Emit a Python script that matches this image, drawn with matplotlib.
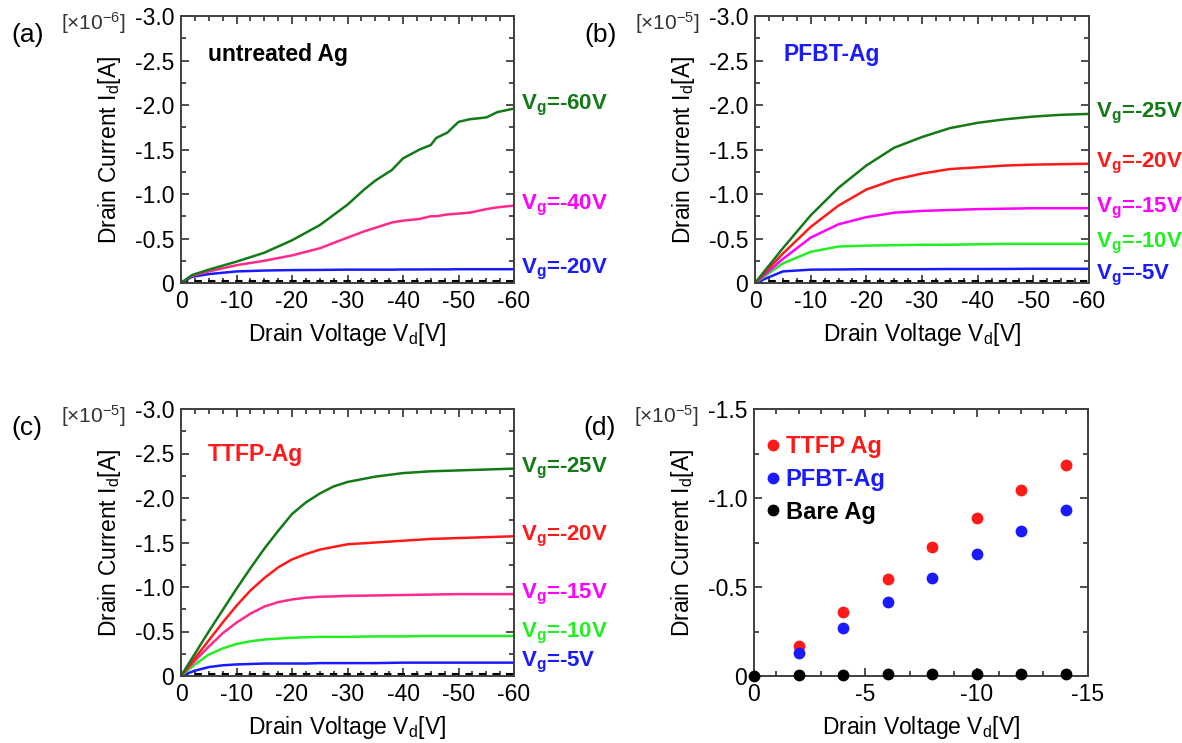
import numpy as np
import matplotlib
matplotlib.use("Agg")
import matplotlib.pyplot as plt
from matplotlib.ticker import MultipleLocator, FuncFormatter

plt.rcParams['font.family'] = ['Liberation Sans', 'DejaVu Sans']
plt.rcParams['mathtext.fontset'] = 'custom'
plt.rcParams['mathtext.rm'] = 'Liberation Sans'
plt.rcParams['mathtext.bf'] = 'Liberation Sans:bold'
plt.rcParams['mathtext.it'] = 'Liberation Sans:italic'

# ---------------- data ----------------
# (a) untreated Ag, current in units of 1e-6 A
vd_a = [0, -2, -5, -10, -15, -20, -25, -30, -33, -35, -38, -40, -43, -45, -46, -48, -50, -52, -55, -57, -60]
id_a_vg60 = [0, -0.09, -0.15, -0.24, -0.34, -0.48, -0.65, -0.88, -1.05, -1.15, -1.27, -1.40, -1.50,
             -1.55, -1.63, -1.69, -1.81, -1.84, -1.86, -1.92, -1.96]
id_a_vg40 = [0, -0.08, -0.13, -0.20, -0.25, -0.31, -0.39, -0.51, -0.58, -0.62, -0.68, -0.70, -0.72,
             -0.75, -0.75, -0.77, -0.78, -0.79, -0.83, -0.85, -0.87]
id_a_vg20 = [0, -0.07, -0.10, -0.13, -0.14, -0.145, -0.147, -0.15, -0.15, -0.15, -0.15, -0.152, -0.152,
             -0.153, -0.153, -0.153, -0.155, -0.155, -0.155, -0.155, -0.155]
id_a_vg0 = [-0.02] * len(vd_a)

# (b) PFBT-Ag, current in units of 1e-5 A
vd_b = [0, -5, -10, -15, -20, -25, -30, -35, -40, -45, -50, -55, -60]
id_b_vg25 = [0, -0.39, -0.76, -1.07, -1.32, -1.52, -1.64, -1.74, -1.80, -1.84, -1.87, -1.89, -1.90]
id_b_vg20 = [0, -0.33, -0.63, -0.87, -1.05, -1.16, -1.23, -1.28, -1.30, -1.32, -1.33, -1.335, -1.34]
id_b_vg15 = [0, -0.27, -0.51, -0.66, -0.74, -0.79, -0.81, -0.82, -0.83, -0.835, -0.84, -0.84, -0.84]
id_b_vg10 = [0, -0.22, -0.35, -0.41, -0.42, -0.425, -0.43, -0.43, -0.435, -0.44, -0.44, -0.44, -0.44]
id_b_vg5 = [0, -0.13, -0.15, -0.152, -0.155, -0.155, -0.155, -0.157, -0.157, -0.158, -0.16, -0.16, -0.16]
id_b_vg0 = [-0.02] * len(vd_b)

# (c) TTFP-Ag, current in units of 1e-5 A
vd_c = [0, -2.5, -5, -7.5, -10, -12.5, -15, -17.5, -20, -22.5, -25, -27.5, -30, -35, -40, -45, -50, -55, -60]
id_c_vg25 = [0, -0.25, -0.50, -0.74, -0.98, -1.21, -1.43, -1.63, -1.82, -1.95, -2.05, -2.13, -2.18,
             -2.24, -2.28, -2.30, -2.31, -2.32, -2.33]
id_c_vg20 = [0, -0.20, -0.40, -0.60, -0.79, -0.96, -1.10, -1.22, -1.31, -1.37, -1.42, -1.45, -1.48,
             -1.50, -1.52, -1.54, -1.55, -1.56, -1.57]
id_c_vg15 = [0, -0.17, -0.33, -0.48, -0.60, -0.70, -0.78, -0.83, -0.86, -0.88, -0.89, -0.895, -0.90,
             -0.905, -0.91, -0.915, -0.92, -0.92, -0.92]
id_c_vg10 = [0, -0.13, -0.24, -0.31, -0.36, -0.39, -0.41, -0.42, -0.43, -0.435, -0.44, -0.44, -0.44,
             -0.445, -0.445, -0.45, -0.45, -0.45, -0.45]
id_c_vg5 = [0, -0.06, -0.10, -0.12, -0.13, -0.135, -0.14, -0.14, -0.14, -0.14, -0.145, -0.145, -0.145,
            -0.145, -0.15, -0.15, -0.15, -0.15, -0.15]
id_c_vg0 = [-0.02] * len(vd_c)

# (d) comparison, current in units of 1e-5 A
vd_d = [-2, -4, -6, -8, -10, -12, -14]
id_d_ttfp = [-0.168, -0.361, -0.544, -0.722, -0.890, -1.045, -1.185]
id_d_pfbt = [-0.129, -0.272, -0.414, -0.552, -0.686, -0.813, -0.932]
vd_d_bare = [0, -2, -4, -6, -8, -10, -12, -14]
id_d_bare = [0, -0.008, -0.008, -0.009, -0.010, -0.011, -0.011, -0.011]

# ---------------- style ----------------
DKGREEN = '#137a17'
LTGREEN = '#22ee22'
BLUE = '#1a1aff'
RED = '#ff1a1a'
MAGENTA = '#ff00ff'
PINK = '#ff2a8c'
SPINE = '#404040'

W, H = 1182, 743
fig = plt.figure(figsize=(W / 100, H / 100), dpi=100)


def px_axes(x0, y0, x1, y1):
    return fig.add_axes([x0 / W, 1 - y1 / H, (x1 - x0) / W, (y1 - y0) / H])


def fmt_y(v, _):
    if abs(v) < 1e-9:
        return '0'
    return f'{v:.1f}'


def fmt_x(v, _):
    if abs(v) < 1e-9:
        return '0'
    return f'{v:.0f}'


def style_axes(ax, xmax, ymax, xmajor, xminor):
    ax.set_xlim(0, xmax)
    ax.set_ylim(0, ymax)
    ax.xaxis.set_major_locator(MultipleLocator(xmajor))
    ax.xaxis.set_minor_locator(MultipleLocator(xminor))
    ax.yaxis.set_major_locator(MultipleLocator(0.5))
    ax.yaxis.set_minor_locator(MultipleLocator(0.25))
    ax.xaxis.set_major_formatter(FuncFormatter(fmt_x))
    ax.yaxis.set_major_formatter(FuncFormatter(fmt_y))
    ax.tick_params(which='both', direction='in', top=True, right=True, color=SPINE, width=1.3)
    ax.tick_params(which='major', length=6, labelsize=16.5, pad=5)
    ax.tick_params(which='minor', length=3.5)
    for s in ax.spines.values():
        s.set_color(SPINE)
        s.set_linewidth(1.4)
    ax.set_xlabel(r'Drain Voltage V$_\mathrm{d}$[V]', fontsize=16.5, labelpad=6)
    ax.set_ylabel(r'Drain Current I$_\mathrm{d}$[A]', fontsize=16.5, labelpad=8)


def panel_tag(ax, tag, scale):
    ax.text(-0.51, 0.93, tag, transform=ax.transAxes, fontsize=19, ha='left', va='center')
    ax.text(-0.36, 0.975, '[\u00d710$^{%s}$]' % scale, transform=ax.transAxes,
            fontsize=15, ha='left', va='center', color='#333333')


def vg_label(ax, y, text, color, dy=0.0):
    ax.annotate(r'V$_\mathbf{g}$=' + text, xy=(1.0, y), xycoords=('axes fraction', 'data'),
                xytext=(5, dy), textcoords='offset points', fontsize=16, fontweight='bold',
                color=color, ha='left', va='center', annotation_clip=False)


LW = 1.8
DASH = dict(color='black', lw=1.5, ls=(0, (3.5, 3)))

# ---- (a) ----
ax = px_axes(181, 16, 514, 283)
style_axes(ax, -60, -3.0, 10, 2.5)
ax.plot(vd_a, id_a_vg0, **DASH)
ax.plot(vd_a, id_a_vg20, color=BLUE, lw=LW)
ax.plot(vd_a, id_a_vg40, color=PINK, lw=LW)
ax.plot(vd_a, id_a_vg60, color=DKGREEN, lw=LW)
vg_label(ax, id_a_vg60[-1], '-60V', DKGREEN, dy=2)
vg_label(ax, id_a_vg40[-1], '-40V', MAGENTA)
vg_label(ax, id_a_vg20[-1], '-20V', BLUE)
ax.text(0.08, 0.855, 'untreated Ag', transform=ax.transAxes, fontsize=16.5,
        fontweight='bold', color='black', ha='left', va='center')
panel_tag(ax, '(a)', '-6')

# ---- (b) ----
ax = px_axes(755, 16, 1089, 283)
style_axes(ax, -60, -3.0, 10, 2.5)
ax.plot(vd_b, id_b_vg0, **DASH)
ax.plot(vd_b, id_b_vg5, color=BLUE, lw=LW)
ax.plot(vd_b, id_b_vg10, color=LTGREEN, lw=LW)
ax.plot(vd_b, id_b_vg15, color=MAGENTA, lw=LW)
ax.plot(vd_b, id_b_vg20, color=RED, lw=LW)
ax.plot(vd_b, id_b_vg25, color=DKGREEN, lw=LW)
vg_label(ax, id_b_vg25[-1], '-25V', DKGREEN)
vg_label(ax, id_b_vg20[-1], '-20V', RED)
vg_label(ax, id_b_vg15[-1], '-15V', MAGENTA)
vg_label(ax, id_b_vg10[-1], '-10V', LTGREEN)
vg_label(ax, id_b_vg5[-1], '-5V', BLUE, dy=-5)
ax.text(0.084, 0.855, 'PFBT-Ag', transform=ax.transAxes, fontsize=16.5,
        fontweight='bold', color=BLUE, ha='left', va='center')
panel_tag(ax, '(b)', '-5')

# ---- (c) ----
ax = px_axes(181, 409, 514, 676)
style_axes(ax, -60, -3.0, 10, 2.5)
ax.plot(vd_c, id_c_vg0, **DASH)
ax.plot(vd_c, id_c_vg5, color=BLUE, lw=LW)
ax.plot(vd_c, id_c_vg10, color=LTGREEN, lw=LW)
ax.plot(vd_c, id_c_vg15, color=PINK, lw=LW)
ax.plot(vd_c, id_c_vg20, color=RED, lw=LW)
ax.plot(vd_c, id_c_vg25, color=DKGREEN, lw=LW)
vg_label(ax, id_c_vg25[-1], '-25V', DKGREEN)
vg_label(ax, id_c_vg20[-1], '-20V', RED)
vg_label(ax, id_c_vg15[-1], '-15V', MAGENTA)
vg_label(ax, id_c_vg10[-1], '-10V', LTGREEN, dy=2)
vg_label(ax, id_c_vg5[-1], '-5V', BLUE)
ax.text(0.08, 0.83, 'TTFP-Ag', transform=ax.transAxes, fontsize=16.5,
        fontweight='bold', color=RED, ha='left', va='center')
panel_tag(ax, '(c)', '-5')

# ---- (d) ----
ax = px_axes(754, 409, 1088, 676)
style_axes(ax, -15, -1.5, 5, 1)
ax.plot(vd_d, id_d_ttfp, 'o', color=RED, ms=8.5, mec='none', label='TTFP Ag', clip_on=False)
ax.plot(vd_d, id_d_pfbt, 'o', color=BLUE, ms=8.5, mec='none', label='PFBT-Ag', clip_on=False)
ax.plot(vd_d_bare, id_d_bare, 'o', color='black', ms=8.5, mec='none', label='Bare Ag',
        clip_on=False, zorder=5)
leg = ax.legend(loc='upper left', frameon=False, handlelength=0.6, handletextpad=0.25,
                borderaxespad=0.3, labelspacing=0.42, markerscale=1.0,
                prop={'weight': 'bold', 'size': 17}, bbox_to_anchor=(-0.015, 0.965))
for t, c in zip(leg.get_texts(), [RED, BLUE, 'black']):
    t.set_color(c)
panel_tag(ax, '(d)', '-5')

fig.savefig('out.png', dpi=100)
